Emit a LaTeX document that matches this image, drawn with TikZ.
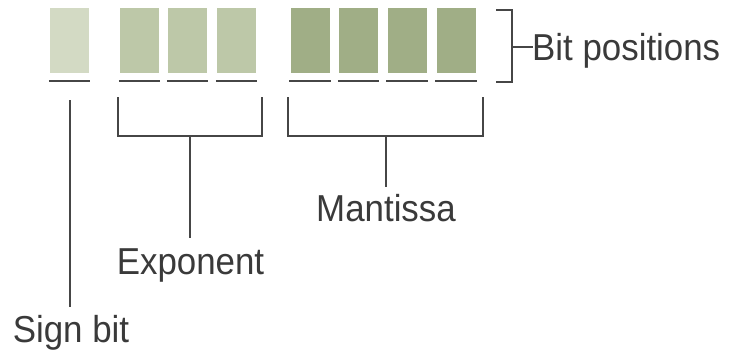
\documentclass[tikz,border=0pt]{standalone}
\usepackage{fontspec}
\setmainfont{Liberation Sans}[FakeStretch=0.93]
\definecolor{signc}{RGB}{211,218,196}
\definecolor{expc}{RGB}{189,200,168}
\definecolor{mantc}{RGB}{160,174,134}
\definecolor{linec}{RGB}{70,70,70}
\definecolor{textc}{RGB}{58,58,58}
\begin{document}
\begin{tikzpicture}[x=1pt,y=-1pt,
  bitbox/.style={minimum width=39pt, minimum height=65pt, inner sep=0pt, draw=none},
  uline/.style={draw=linec, line width=2.2pt},
  bline/.style={draw=linec, line width=2pt},
  lbl/.style={inner sep=0pt, text=textc, font=\fontsize{37.5}{40}\selectfont},
]
\useasboundingbox (0,0) rectangle (733,351);
% boxes
\node[bitbox, fill=signc] (s1) at (69.5,40.5) {};
\node[bitbox, fill=expc] (e1) at (139.5,40.5) {};
\node[bitbox, fill=expc] (e2) at (187.5,40.5) {};
\node[bitbox, fill=expc] (e3) at (236.5,40.5) {};
\node[bitbox, fill=mantc] (m1) at (310,40.5) {};
\node[bitbox, fill=mantc] (m2) at (358.5,40.5) {};
\node[bitbox, fill=mantc] (m3) at (407,40.5) {};
\node[bitbox, fill=mantc] (m4) at (456,40.5) {};
% underlines
\foreach \b in {s1,e1,e2,e3,m1,m2,m3,m4}{
  \draw[uline] ([xshift=-1pt,yshift=-8pt]\b.south west) -- ([xshift=1pt,yshift=-8pt]\b.south east);
}
% labels
\node[lbl, anchor=base] (sign) at (71,342) {Sign bit};
\node[lbl, anchor=base] (expo) at (190.5,274.5) {Exponent};
\node[lbl, anchor=base] (mant) at (386,221.5) {Mantissa};
\node[lbl, anchor=base west] (bitpos) at (532,60) {Bit positions};
% sign connector
\coordinate (stop) at (70,100);
\draw[bline] (stop) -- (70,307);
% exponent bracket
\coordinate (etl) at (118,97);
\coordinate (etr) at (262,97);
\coordinate (ebl) at (118,136);
\coordinate (ebr) at (262,136);
\coordinate (emid) at (190,136);
\draw[bline] (etl) -- (ebl) -- (ebr) -- (etr);
\draw[bline] (emid) -- (190,238);
% mantissa bracket
\coordinate (mtl) at (288,97);
\coordinate (mtr) at (483,97);
\coordinate (mbl) at (288,136);
\coordinate (mbr) at (483,136);
\coordinate (mmid) at (386,136);
\draw[bline] (mtl) -- (mbl) -- (mbr) -- (mtr);
\draw[bline] (mmid) -- (386,187);
% bit positions bracket
\coordinate (ptl) at (496,9.5);
\coordinate (ptr) at (512,9.5);
\coordinate (pbr) at (512,81.5);
\coordinate (pbl) at (496,81.5);
\coordinate (pmid) at (512,47);
\draw[bline] (ptl) -- (ptr) -- (pbr) -- (pbl);
\draw[bline] (pmid) -- (533,47);
\end{tikzpicture}
\end{document}
